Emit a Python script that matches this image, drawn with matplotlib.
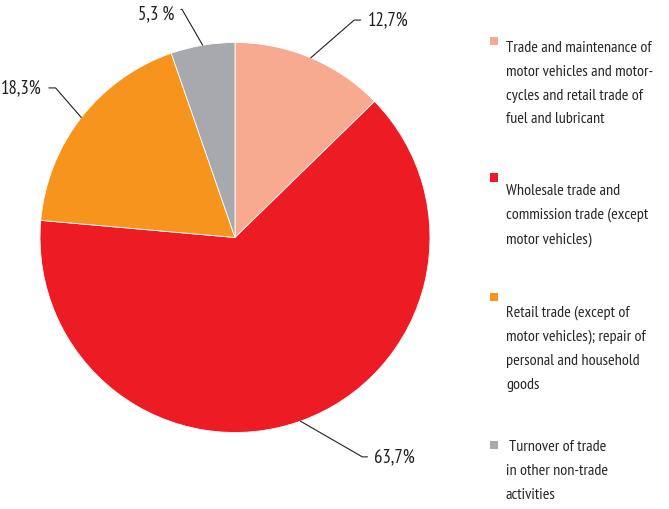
import matplotlib.pyplot as plt
import numpy as np
from matplotlib.patches import Rectangle

# Turnover structure by activity, percent
categories = [
    "Trade and maintenance of\nmotor vehicles and motor-\ncycles and retail trade of\nfuel and lubricant",
    "Wholesale trade and\ncommission trade (except\nmotor vehicles)",
    "Retail trade (except of\nmotor vehicles); repair of\npersonal and household\ngoods",
    " Turnover of trade\nin other non-trade\nactivities",
]
shares = [12.7, 63.7, 18.3, 5.3]
share_labels = ["12,7%", "63,7%", "18,3%", "5,3 %"]
colors = ["#F7AA8F", "#ED1C24", "#F7941D", "#A7A9AC"]

plt.rcParams["font.family"] = ["PT Sans Narrow", "DejaVu Sans"]

W, H = 669, 509
fig = plt.figure(figsize=(W / 100, H / 100), dpi=100)

# pie centred at (235, 237) px with radius 195 px
cx, cy, r = 235, 271.5, 195
ax = fig.add_axes([(cx - r) / W, (cy - r) / H, 2 * r / W, 2 * r / H])
wedges, _ = ax.pie(shares, colors=colors, startangle=90, counterclock=False,
                   radius=1, wedgeprops=dict(edgecolor="white", linewidth=0.6))
ax.set_xlim(-1, 1)
ax.set_ylim(-1, 1)
ax.set_aspect("equal")
ax.axis("off")

# label anchor (data units), alignment, leader direction from the wedge edge
label_pos = [
    ((0.68, 1.115), "left", 41),
    ((0.715, -1.125), "left", -30),
    ((-0.99, 0.767), "right", 131),
    ((-0.313, 1.147), "right", 120),
]
for w, text, (xyt, ha, ang) in zip(wedges, share_labels, label_pos):
    mid = np.deg2rad((w.theta1 + w.theta2) / 2)
    xy = (np.cos(mid), np.sin(mid))
    relpos = (0, 0.5) if ha == "left" else (1, 0.75 if text.startswith("5") else 0.5)
    ax.annotate(text, xy=xy, xytext=xyt, ha=ha, va="center",
                fontsize=13.5, color="#231F20", annotation_clip=False,
                arrowprops=dict(arrowstyle="-", color="#231F20", lw=0.8,
                                shrinkA=3, shrinkB=0, relpos=relpos,
                                connectionstyle=f"angle,angleA=0,angleB={ang},rad=0"))

# legend: small square above each multi-line caption (pixel rows from the top)
square_rows = [41, 177.5, 297, 444.5]
text_rows = [47, 190, 311, 446]
for sq, row, cat, col in zip(square_rows, text_rows, categories, colors):
    fig.add_artist(Rectangle((490 / W, 1 - (sq + 4) / H), 8 / W, 8 / H,
                             transform=fig.transFigure, color=col, lw=0))
    fig.text(506 / W, 1 - (row - 6) / H, cat, ha="left", va="top",
             fontsize=11.6, color="#262626", linespacing=1.89)

fig.savefig("out.png", dpi=100)
